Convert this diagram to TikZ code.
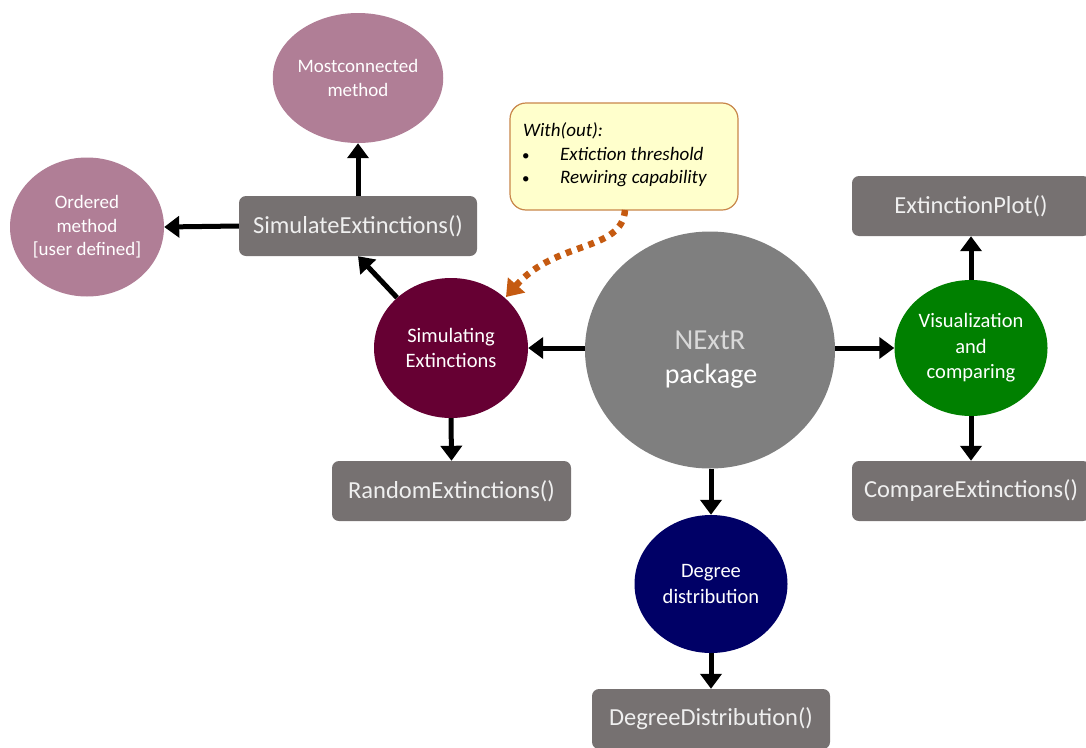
\documentclass[tikz,border=0pt]{standalone}
\usepackage{fontspec}
\setmainfont{Carlito}
\usetikzlibrary{shapes.geometric,arrows.meta}
\definecolor{mauve}{HTML}{B07E96}
\definecolor{maroon}{HTML}{660033}
\definecolor{bigGrey}{HTML}{7F7F7F}
\definecolor{boxGrey}{HTML}{767171}
\definecolor{vizGreen}{HTML}{008000}
\definecolor{navy}{HTML}{000066}
\definecolor{noteFill}{HTML}{FFFFCC}
\definecolor{noteLine}{HTML}{C8864A}
\definecolor{rust}{HTML}{C55A11}
\definecolor{boxText}{HTML}{EFEFEF}
\definecolor{lightTxt}{HTML}{D9D9D9}
\tikzset{
  bubble/.style={ellipse, draw=none, text=white, align=center,
    font=\fontsize{20.5}{25.5}\selectfont, inner sep=0pt},
  smallbubble/.style={bubble, font=\fontsize{19}{23.5}\selectfont},
  funcbox/.style={rectangle, rounded corners=7pt, fill=boxGrey, draw=none,
    text=boxText, font=\fontsize{24.5}{28}\selectfont, inner sep=0pt,
    minimum height=60pt},
  flow/.style={line width=5pt, draw=black,
    -{Triangle[length=15pt,width=21pt]}, shorten >=0pt},
  notetext/.style={font=\fontsize{19}{22}\selectfont\itshape, inner sep=0pt, text=black},
}
\begin{document}
\begin{tikzpicture}[x=1pt,y=-1pt]
\useasboundingbox (0,0) rectangle (1086,747);
% bubbles
\node[smallbubble, fill=mauve, minimum width=151pt, minimum height=130pt] (most) at (358,78) {Mostconnected\\method};
\node[smallbubble, fill=mauve, minimum width=154pt, minimum height=139pt] (ord) at (87,227) {Ordered\\method\\{[}user defined{]}};
\node[bubble, fill=maroon, minimum width=154pt, minimum height=140pt] (simc) at (451,348) {Simulating\\Extinctions};
\node[ellipse, fill=bigGrey, minimum width=250pt, minimum height=237pt, inner sep=0pt] (nextr) at (710,350) {};
\node[font=\fontsize{29}{36}\selectfont, text=lightTxt, anchor=base, inner sep=0pt] (t1) at (710,349) {NExtR};
\node[font=\fontsize{28}{36}\selectfont, text=white, anchor=base, inner sep=0pt] (t2) at (711,383) {package};
\node[bubble, fill=vizGreen, minimum width=153pt, minimum height=136pt] (viz) at (971,348) {Visualization\\and\\comparing};
\node[bubble, fill=navy, minimum width=153pt, minimum height=138pt] (deg) at (711,584) {Degree\\distribution};
% function boxes
\node[funcbox, minimum width=238pt] (sim) at (358,226) {SimulateExtinctions()};
\node[funcbox, minimum width=239pt] (rand) at (451.5,491) {RandomExtinctions()};
\node[funcbox, minimum width=238pt] (plot) at (971,206) {ExtinctionPlot()};
\node[funcbox, minimum width=238pt] (comp) at (971,491) {CompareExtinctions()};
\node[funcbox, minimum width=238pt] (dist) at (711,719) {DegreeDistribution()};
% note
\node[rectangle, rounded corners=16pt, fill=noteFill, draw=noteLine, line width=1.2pt,
  minimum width=228pt, minimum height=107pt] (note) at (624,156.5) {};
\node[notetext, anchor=base west] (n1) at (523,136) {With(out):};
\node[notetext, anchor=base west, font=\fontsize{15}{18}\selectfont] (b1) at (522,160) {\textbullet};
\node[notetext, anchor=base west] (n2) at (560,160) {Extiction threshold};
\node[notetext, anchor=base west, font=\fontsize{15}{18}\selectfont] (b2) at (522,183) {\textbullet};
\node[notetext, anchor=base west] (n3) at (560,183) {Rewiring capability};
% connectors
\draw[flow] (sim.north) -- (most.south);
\draw[flow] (sim.west) -- (ord.east);
\draw[flow] (simc.137) -- (sim.south);
\draw[flow] (simc.south) -- (rand.north);
\draw[flow] (nextr.west |- simc.east) -- (simc.east);
\draw[flow] (nextr.east |- viz.west) -- (viz.west);
\draw[flow] (viz.north) -- (plot.south);
\draw[flow] (viz.south) -- (comp.south |- comp.north);
\draw[flow] (nextr.south -| deg.north) -- (deg.north);
\draw[flow] (deg.south) -- (dist.north);
\coordinate (noteOut) at (625,210);
\coordinate (tipEnd) at (506,297);
\draw[rust, line width=6.5pt, dash pattern=on 6pt off 6pt,
  -{Triangle[length=16pt,width=22pt]}]
  (noteOut) .. controls (622,252) and (556,240) .. (tipEnd);
\end{tikzpicture}
\end{document}
